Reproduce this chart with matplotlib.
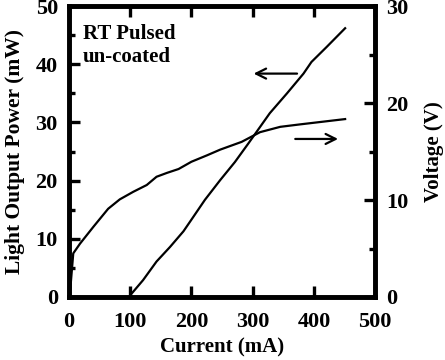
import matplotlib
matplotlib.use("Agg")
import matplotlib.pyplot as plt
from matplotlib.ticker import MultipleLocator

plt.rcParams['font.family'] = ['Liberation Serif', 'DejaVu Serif']
plt.rcParams['font.weight'] = 'bold'

# L-I data (left axis, mW)
li_current = [100, 121, 143, 165, 187, 200, 222, 247, 271, 293, 328, 356, 383, 396, 421, 451]
li_power = [0.3, 2.9, 6.1, 8.6, 11.3, 13.3, 16.7, 20.1, 23.2, 26.4, 31.6, 35.0, 38.4, 40.4, 43.0, 46.2]

# V-I data (right axis, V)
vi_current = [0, 1.6, 7, 18, 40, 64, 83, 105, 127, 143, 160, 179, 200, 225, 247, 282, 312, 345, 377, 451]
vi_voltage = [0.0, 0.4, 4.5, 5.5, 7.25, 9.1, 10.07, 10.85, 11.55, 12.4, 12.8, 13.2, 13.95, 14.6, 15.2, 16.0, 17.0, 17.55, 17.8, 18.35]

x_ticks = [0, 100, 200, 300, 400, 500]
left_ticks = [0, 10, 20, 30, 40, 50]
right_ticks = [0, 10, 20, 30]

fig = plt.figure(figsize=(4.45, 3.6), dpi=100)
ax = fig.add_axes([0.155, 0.175, 0.688, 0.808])
ax2 = ax.twinx()

ax.plot(li_current, li_power, color='black', lw=1.6)
ax2.plot(vi_current, vi_voltage, color='black', lw=1.6)

ax.set_xlim(0, 500)
ax.set_ylim(0, 50)
ax2.set_ylim(0, 30)
ax.set_xticks(x_ticks)
ax.set_yticks(left_ticks)
ax.yaxis.set_minor_locator(MultipleLocator(5))
ax2.set_yticks(right_ticks)
ax2.yaxis.set_minor_locator(MultipleLocator(5))

for a in (ax, ax2):
    for s in a.spines.values():
        s.set_linewidth(3.3)
    a.tick_params(which='major', direction='in', length=8, width=2.4, labelsize=16)
    a.tick_params(which='minor', direction='in', length=4.5, width=2.4)
ax.tick_params(axis='x', top=True, labeltop=False, pad=11)
ax.tick_params(axis='y', right=False, pad=8)
ax2.tick_params(axis='y', left=False, pad=8)

for lab in ax.get_xticklabels() + ax.get_yticklabels() + ax2.get_yticklabels():
    lab.set_fontweight('bold')

ax.set_xlabel('Current (mA)', fontsize=15, fontweight='bold', labelpad=4)
ax.set_ylabel('Light Output Power (mW)', fontsize=15.5, fontweight='bold', labelpad=8)
ax2.set_ylabel('Voltage (V)', fontsize=15, fontweight='bold', labelpad=11)

ax.text(23, 47.0, 'RT Pulsed\nun-coated', fontsize=15, fontweight='bold',
        va='top', ha='left', linespacing=1.25)

ax.annotate('', xy=(297, 38.4), xytext=(377, 38.4),
            arrowprops=dict(arrowstyle='->', lw=1.6, color='black', mutation_scale=18))
ax2.annotate('', xy=(444, 16.3), xytext=(365, 16.3),
             arrowprops=dict(arrowstyle='->', lw=1.6, color='black', mutation_scale=18))

fig.savefig('out.png', dpi=100)
